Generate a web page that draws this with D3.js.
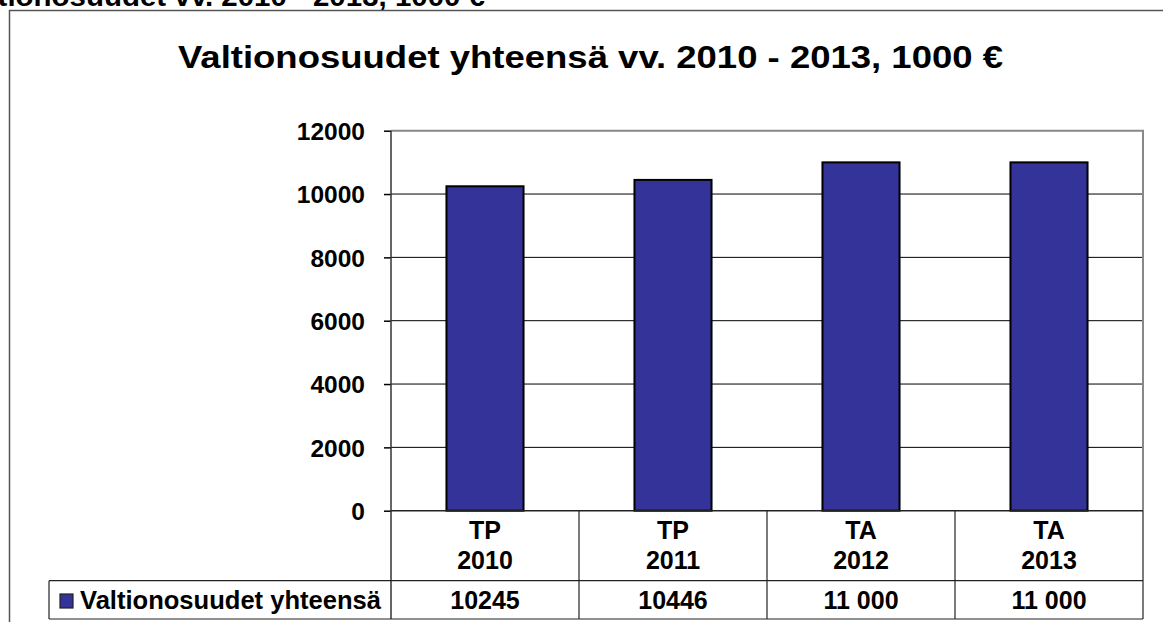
<!DOCTYPE html>
<html><head><meta charset="utf-8">
<script src="https://cdn.jsdelivr.net/npm/d3@7"></script>
<style>
html,body{margin:0;padding:0;background:#fff;overflow:hidden;}
svg{display:block;font-family:"Liberation Sans",Arial,sans-serif;font-weight:bold;}
</style></head>
<body>
<svg id="c" width="1163" height="622"></svg>
<script>
const categories = [["TP","2010"],["TP","2011"],["TA","2012"],["TA","2013"]];
const values = [10245, 10446, 11000, 11000];
const valueLabels = ["10245", "10446", "11 000", "11 000"];
const seriesName = "Valtionosuudet yhteensä";
const yTicks = [0, 2000, 4000, 6000, 8000, 10000, 12000];
const chartTitle = "Valtionosuudet yhteensä vv. 2010 - 2013, 1000 €";
const pageHeading = "Valtionosuudet vv. 2010 - 2013, 1000 €";

const svg = d3.select("#c");
const L = 391, R = 1143, T = 130.7, B = 510.7;
const row1 = 580.7, row2 = 619, legendLeft = 49;

// cut-off page heading (partly outside the page, as in the reference)
svg.append("text").attr("x", -45).attr("y", 5.5)
  .attr("font-size", 28).attr("textLength", 530).attr("lengthAdjust", "spacingAndGlyphs")
  .text(pageHeading);

// outer chart border
svg.append("rect").attr("x", 9.5).attr("y", 10.5).attr("width", 1200).attr("height", 700)
  .attr("fill", "none").attr("stroke", "#555").attr("stroke-width", 1.5);

// title
svg.append("text").attr("x", 178).attr("y", 67.7)
  .attr("font-size", 32).attr("textLength", 825).attr("lengthAdjust", "spacingAndGlyphs")
  .text(chartTitle);

const x = d3.scaleBand().domain(categories.map((d,i)=>i)).range([L, R]).paddingInner(0.59).paddingOuter(0.295);
const y = d3.scaleLinear().domain([0, 12000]).range([B, T]);

// gridlines
svg.append("g").selectAll("line").data(yTicks.filter(t => t > 0 && t < 12000)).join("line")
  .attr("x1", L).attr("x2", R).attr("y1", d => y(d)).attr("y2", d => y(d))
  .attr("stroke", "#000").attr("stroke-width", 1);

// plot border top/right (gray)
svg.append("path").attr("d", `M${L},${y(12000)}H${R}V${B}`)
  .attr("fill", "none").attr("stroke", "#888").attr("stroke-width", 2);

// y axis
const yAxis = d3.axisLeft(y).tickValues(yTicks).tickSize(7).tickPadding(19).tickFormat(d3.format("d"));
const ga = svg.append("g").attr("transform", `translate(${L},0)`).call(yAxis);
ga.select(".domain").remove();
ga.selectAll(".tick line").attr("stroke", "#000").attr("stroke-width", 1.5);
ga.selectAll(".tick text").attr("font-size", 24.5).attr("font-family", "Liberation Sans, Arial, sans-serif")
  .attr("font-weight", "bold").attr("fill", "#000").attr("dy", "0.36em");

// bars
svg.append("g").selectAll("rect").data(values).join("rect")
  .attr("x", (d,i) => x(i)).attr("width", x.bandwidth())
  .attr("y", d => y(d)).attr("height", d => B - y(d))
  .attr("fill", "#333399").attr("stroke", "#000").attr("stroke-width", 2);

// y axis line (extends through table)
svg.append("line").attr("x1", L).attr("x2", L).attr("y1", T).attr("y2", row2)
  .attr("stroke", "#333").attr("stroke-width", 1.5);

// table
const tg = svg.append("g").attr("stroke", "#222").attr("stroke-width", 1.2);
tg.append("line").attr("x1", L).attr("x2", R).attr("y1", B).attr("y2", B).attr("stroke-width", 1.5);
tg.append("line").attr("x1", legendLeft).attr("x2", R).attr("y1", row1).attr("y2", row1);
tg.append("line").attr("x1", legendLeft).attr("x2", R).attr("y1", row2).attr("y2", row2);
tg.append("line").attr("x1", legendLeft).attr("x2", legendLeft).attr("y1", row1).attr("y2", row2);
const step = x.step();
tg.selectAll("line.v").data(categories.map((d,i)=>i)).join("line").attr("class","v")
  .attr("x1", i => L + (i+1)*step).attr("x2", i => L + (i+1)*step)
  .attr("y1", B).attr("y2", row2);

const cx = i => x(i) + x.bandwidth()/2;
categories.forEach((c, i) => {
  const t = svg.append("text").attr("text-anchor", "middle").attr("font-size", 25);
  t.append("tspan").attr("x", cx(i)).attr("y", 539.3).text(c[0]);
  t.append("tspan").attr("x", cx(i)).attr("y", 569).text(c[1]);
  svg.append("text").attr("text-anchor", "middle").attr("font-size", 25)
    .attr("x", cx(i)).attr("y", 609.3).text(valueLabels[i]);
});

// legend
svg.append("rect").attr("x", 60).attr("y", 594).attr("width", 13).attr("height", 14)
  .attr("fill", "#333399").attr("stroke", "#222").attr("stroke-width", 1.2);
svg.append("text").attr("x", 80).attr("y", 609.3).attr("font-size", 25)
  .attr("textLength", 301).attr("lengthAdjust", "spacingAndGlyphs").text(seriesName);
</script>
</body></html>
